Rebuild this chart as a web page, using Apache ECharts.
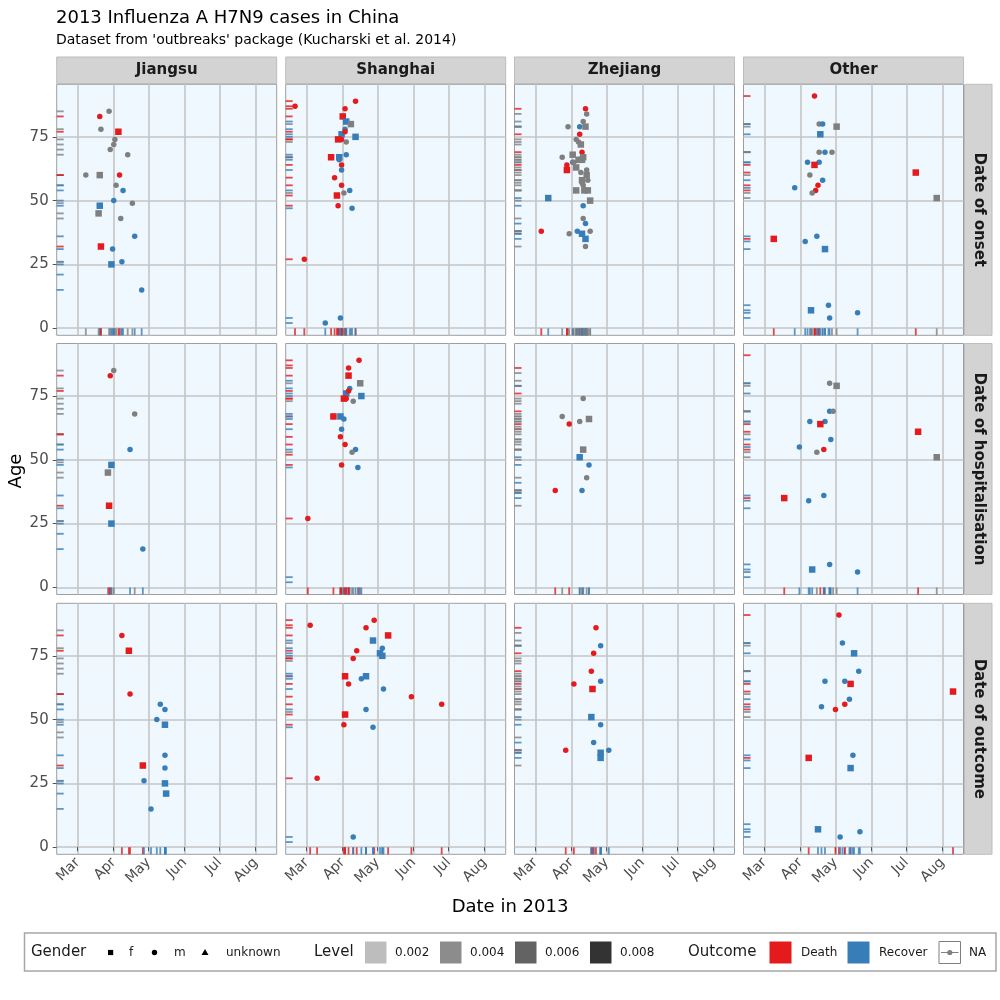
<!DOCTYPE html>
<html>
<head>
<meta charset="utf-8">
<script src="https://cdn.jsdelivr.net/npm/echarts@6/dist/echarts.min.js"></script>
<style>html,body{margin:0;padding:0;background:#fff}#main{width:1000px;height:1000px}</style>
</head>
<body>
<div id="main"></div>
<script>
const provinces = ['Jiangsu', 'Shanghai', 'Zhejiang', 'Other'];
const dateTypes = ['Date of onset', 'Date of hospitalisation', 'Date of outcome'];
const monthTicks = ['03-01', '04-01', '05-01', '06-01', '07-01', '08-01'];
const monthLabels = ['Mar', 'Apr', 'May', 'Jun', 'Jul', 'Aug'];
const ageTicks = [0, 25, 50, 75];
const levelLabels = ['0.002', '0.004', '0.006', '0.008'];

// one row per case: [age, gender, outcome, onset, hospitalisation, outcome date]
const jiangsu = [
  [85, 'm', null, '03-28', '04-01', null],
  [83, 'm', 'Death', '03-20', '03-29', '04-08'],
  [78, 'm', null, '03-21', null, null],
  [77, 'f', 'Death', '04-05', null, '04-14'],
  [74, 'm', null, '04-02', null, null],
  [72, 'm', null, '04-01', null, null],
  [70, 'm', null, '03-29', null, null],
  [68, 'm', null, '04-13', '04-19', null],
  [60, 'm', null, '03-08', null, null],
  [60, 'f', null, '03-20', null, null],
  [60, 'm', 'Death', '04-06', null, '04-15'],
  [56, 'm', null, '04-03', null, null],
  [54, 'm', 'Recover', '04-09', '04-15', '05-15'],
  [48, 'f', 'Recover', '03-20', '03-30', '05-15'],
  [50, 'm', 'Recover', '04-01', null, '05-08'],
  [49, 'm', null, '04-17', null, null],
  [45, 'f', null, '03-19', '03-27', null],
  [43, 'm', null, '04-07', null, null],
  [36, 'm', 'Recover', '04-19', null, '05-15'],
  [32, 'f', 'Death', '03-21', '03-28', '04-26'],
  [31, 'm', 'Recover', '03-31', null, '05-15'],
  [26, 'm', 'Recover', '04-08', null, '04-27'],
  [25, 'f', 'Recover', '03-30', '03-30', '05-15'],
  [15, 'm', 'Recover', '04-25', '04-26', '05-03'],
  [56, 'm', 'Recover', null, null, '05-11'],
  [21, 'f', 'Recover', null, null, '05-16'],
  [26, 'm', null, null, null, null]
];
const shanghai = [
  [89, 'm', 'Death', '04-12', '04-15', '04-28'],
  [87, 'm', 'Death', '02-19', null, '03-04'],
  [86, 'm', 'Death', '04-03', '04-06', '04-21'],
  [83, 'f', 'Death', '04-01', '04-06', '05-10'],
  [81, 'f', 'Recover', '04-04', null, '04-27'],
  [80, 'f', null, '04-08', '04-16', null],
  [78, 'm', 'Recover', '04-03', '04-07', '05-05'],
  [76, 'f', 'Recover', '03-31', '04-04', '05-03'],
  [77, 'm', 'Death', '04-03', '04-06', '04-13'],
  [74, 'f', 'Death', '03-28', '04-02', null],
  [74, 'm', 'Death', '03-31', '04-04', '04-10'],
  [73, 'm', null, '04-04', '04-10', null],
  [75, 'f', 'Recover', '04-12', '04-17', '05-05'],
  [67, 'f', 'Death', '03-22', '03-24', '04-03'],
  [67, 'f', 'Recover', '03-29', '03-30', '04-21'],
  [66, 'm', 'Recover', '03-29', '04-02', '04-17'],
  [68, 'm', 'Recover', '04-04', null, null],
  [64, 'm', 'Death', '03-31', null, '04-06'],
  [62, 'm', 'Recover', '03-31', '03-31', '05-06'],
  [59, 'm', 'Death', '03-25', '03-30', '05-30'],
  [56, 'm', 'Death', '03-31', '04-03', '06-25'],
  [54, 'm', 'Recover', '04-07', '04-12', '04-21'],
  [53, 'm', null, '04-02', '04-09', null],
  [52, 'f', 'Death', '03-27', null, '04-03'],
  [48, 'm', 'Death', '03-28', '03-31', '04-02'],
  [47, 'm', 'Recover', '04-09', '04-14', '04-27'],
  [27, 'm', 'Death', '02-27', '03-02', '03-10'],
  [4, 'm', 'Recover', '03-30', null, '04-10'],
  [2, 'm', 'Recover', '03-17', null, null]
];
const zhejiang = [
  [86, 'm', 'Death', '04-13', null, '04-22'],
  [84, 'm', null, '04-14', null, null],
  [79, 'm', null, '03-29', null, null],
  [81, 'm', null, '04-11', null, null],
  [79, 'm', 'Recover', '04-08', null, '04-26'],
  [79, 'f', null, '04-13', null, null],
  [76, 'm', 'Death', '04-08', null, '04-20'],
  [74, 'm', null, '04-05', '04-11', null],
  [73, 'm', null, '04-07', null, null],
  [72, 'f', null, '04-09', null, null],
  [69, 'm', 'Death', '04-10', null, '04-18'],
  [68, 'f', null, '04-02', null, null],
  [67, 'f', null, '04-11', null, null],
  [67, 'm', null, '03-24', '03-24', null],
  [65, 'm', 'Recover', '04-02', null, '04-26'],
  [66, 'f', null, '04-07', null, null],
  [66, 'f', null, '04-10', '04-16', null],
  [65, 'm', null, '04-03', '04-08', null],
  [64, 'm', 'Death', '03-28', '03-30', '04-03'],
  [62, 'f', 'Death', '03-28', null, '04-19'],
  [63, 'f', null, '04-05', null, null],
  [61, 'm', null, '04-09', null, null],
  [62, 'm', null, '04-14', null, null],
  [60, 'f', null, '04-14', null, null],
  [58, 'm', null, '04-15', null, null],
  [58, 'f', null, '04-10', null, null],
  [57, 'm', null, '04-10', null, null],
  [56, 'm', null, '04-11', null, null],
  [54, 'f', null, '04-05', '04-11', null],
  [54, 'f', null, '04-12', null, null],
  [54, 'f', null, '04-15', null, null],
  [51, 'f', 'Recover', '03-12', '04-08', '04-18'],
  [50, 'f', null, '04-17', null, null],
  [48, 'm', 'Recover', '04-11', '04-16', '04-26'],
  [43, 'm', null, '04-11', '04-14', null],
  [41, 'm', 'Recover', '04-13', null, '04-20'],
  [38, 'm', 'Death', '03-06', '03-18', '03-27'],
  [37, 'm', null, '03-30', null, null],
  [38, 'm', 'Recover', '04-06', '04-10', '05-03'],
  [38, 'm', null, '04-17', null, null],
  [37, 'f', 'Recover', '04-10', null, '04-26'],
  [35, 'f', 'Recover', '04-13', null, '04-26'],
  [32, 'm', null, '04-13', null, null]
];
const other = [
  [91, 'm', 'Death', '04-13', null, '05-04'],
  [80, 'm', null, '04-17', '04-26', null],
  [80, 'm', 'Recover', '04-20', null, '05-07'],
  [79, 'f', null, '05-02', '05-02', null],
  [76, 'f', 'Recover', '04-18', null, '05-17'],
  [69, 'm', null, '04-17', null, null],
  [69, 'm', 'Recover', '04-22', '04-26', '05-21'],
  [69, 'm', null, '04-28', '04-29', null],
  [65, 'm', 'Recover', '04-07', '04-09', '04-22'],
  [65, 'm', 'Recover', '04-17', '04-22', '05-09'],
  [64, 'f', 'Death', '04-13', '04-18', '05-14'],
  [61, 'f', 'Death', '07-09', '07-11', '08-10'],
  [60, 'm', null, '04-09', null, null],
  [58, 'm', 'Recover', '04-20', '04-27', '05-13'],
  [56, 'm', 'Death', '04-16', null, '05-09'],
  [55, 'm', 'Recover', '03-27', '03-31', '04-19'],
  [54, 'm', 'Death', '04-14', '04-21', '05-01'],
  [53, 'm', null, '04-11', '04-15', null],
  [51, 'f', null, '07-27', '07-27', null],
  [35, 'f', 'Death', '03-09', '03-18', '04-08'],
  [34, 'm', 'Recover', '04-05', '04-08', null],
  [36, 'm', 'Recover', '04-15', '04-21', '05-16'],
  [31, 'f', 'Recover', '04-22', null, '05-14'],
  [9, 'm', 'Recover', '04-25', '04-26', null],
  [7, 'f', 'Recover', '04-10', '04-11', '04-16'],
  [6, 'm', 'Recover', '05-20', '05-20', '05-22'],
  [4, 'm', 'Recover', '04-26', null, '05-05']
];

const provinceCases = [jiangsu, shanghai, zhejiang, other];
const outcomeColors = { Death: '#E41A1C', Recover: '#377EB8' };
const naColor = '#7F7F7F';
const genderSymbols = { f: 'rect', m: 'circle', unknown: 'triangle' };
const levelColors = ['#BDBDBD', '#8C8C8C', '#636363', '#333333'];
const font = 'DejaVu Sans';

// panel layout
const colLeft = [56.7, 285.7, 514.5, 743.5];
const rowTop = [84.3, 343.5, 603.3];
const panelW = 220, panelH = 251;
const xMin = 41, xMax = 230, yMin = -2.8, yMax = 95.6;

function dayOf(md) {
  const p = md.split('-').map(Number);
  return (Date.UTC(2013, p[0] - 1, p[1]) - Date.UTC(2013, 0, 1)) / 864e5;
}
function colorOf(o) { return o ? outcomeColors[o] : naColor; }
const monthDays = monthTicks.map(dayOf);

const chartDom = document.getElementById('main');
const myChart = echarts.init(chartDom);

const grids = [], xAxes = [], yAxes = [], series = [], graphics = [];

dateTypes.forEach((dt, r) => {
  provinces.forEach((pv, c) => {
    const i = r * 4 + c;
    grids.push({
      left: colLeft[c], top: rowTop[r], width: panelW, height: panelH,
      show: true, backgroundColor: '#F0F8FF', borderColor: '#9E9E9E', borderWidth: 1
    });
    xAxes.push({
      type: 'value', gridIndex: i, min: xMin, max: xMax,
      axisLine: { show: false },
      axisTick: { show: r === 2, length: 4, customValues: monthDays, lineStyle: { color: '#555' } },
      axisLabel: {
        show: r === 2, customValues: monthDays, rotate: 45, margin: 6,
        color: '#4D4D4D', fontSize: 14, fontFamily: font,
        formatter: v => monthLabels[monthDays.indexOf(Math.round(v))]
      },
      splitLine: { show: true, lineStyle: { color: '#C4C4C4', width: 1.6 } }
    });
    yAxes.push({
      type: 'value', gridIndex: i, min: yMin, max: yMax,
      axisLine: { show: false },
      axisTick: { show: c === 0, length: 4, customValues: ageTicks, lineStyle: { color: '#555' } },
      axisLabel: {
        show: c === 0, customValues: ageTicks, margin: 8,
        color: '#4D4D4D', fontSize: 15, fontFamily: font
      },
      splitLine: { show: true, lineStyle: { color: '#C4C4C4', width: 1.6 } }
    });

    const cases = provinceCases[c];
    const dated = cases.filter(k => k[3 + r]);
    // rug on the date axis
    series.push({
      type: 'scatter', xAxisIndex: i, yAxisIndex: i, clip: false, silent: true, z: 2,
      symbol: 'rect', symbolSize: [1.8, 7], symbolOffset: [0, -3.5],
      data: dated.map(k => ({ value: [dayOf(k[3 + r]), yMin], itemStyle: { color: colorOf(k[2]), opacity: 0.8 } }))
    });
    // rug on the age axis
    series.push({
      type: 'scatter', xAxisIndex: i, yAxisIndex: i, clip: false, silent: true, z: 2,
      symbol: 'rect', symbolSize: [7, 1.8], symbolOffset: [3.5, 0],
      data: cases.map(k => ({ value: [xMin, k[0]], itemStyle: { color: colorOf(k[2]), opacity: 0.8 } }))
    });
    // cases
    series.push({
      type: 'scatter', xAxisIndex: i, yAxisIndex: i, clip: false, silent: true, z: 3,
      data: dated.map(k => ({
        value: [dayOf(k[3 + r]), k[0]],
        symbol: genderSymbols[k[1]],
        symbolSize: k[1] === 'f' ? 6.5 : 5.5,
        itemStyle: { color: colorOf(k[2]), opacity: 1 }
      }))
    });
  });
});

// facet strips
provinces.forEach((pv, c) => {
  graphics.push({ type: 'rect', shape: { x: colLeft[c], y: 57, width: panelW, height: 26.5 }, style: { fill: '#D3D3D3', stroke: '#BDBDBD', lineWidth: 1 } });
  graphics.push({ type: 'text', x: colLeft[c] + panelW / 2, y: 70.5, style: { text: pv, font: 'bold 15px "DejaVu Sans"', fill: '#1A1A1A', textAlign: 'center', textVerticalAlign: 'middle' } });
});
dateTypes.forEach((dt, r) => {
  graphics.push({ type: 'rect', shape: { x: 964.5, y: rowTop[r], width: 27.5, height: panelH }, style: { fill: '#D3D3D3', stroke: '#BDBDBD', lineWidth: 1 } });
  graphics.push({ type: 'text', x: 978.5, y: rowTop[r] + panelH / 2, rotation: -Math.PI / 2, style: { text: dt, font: 'bold 15px "DejaVu Sans"', fill: '#1A1A1A', textAlign: 'center', textVerticalAlign: 'middle' } });
});

// axis titles
graphics.push({ type: 'text', x: 16, y: 471, rotation: Math.PI / 2, style: { text: 'Age', font: '18px "DejaVu Sans"', fill: '#000', textAlign: 'center', textVerticalAlign: 'middle' } });
graphics.push({ type: 'text', x: 510, y: 907, style: { text: 'Date in 2013', font: '18px "DejaVu Sans"', fill: '#000', textAlign: 'center', textVerticalAlign: 'middle' } });

// legend box
const ly = 952.5;
const lt = (x, t, size) => ({ type: 'text', x: x, y: ly, style: { text: t, font: size + 'px "DejaVu Sans"', fill: '#1A1A1A', textVerticalAlign: 'middle' } });
graphics.push({ type: 'rect', shape: { x: 24.5, y: 933, width: 971.5, height: 38 }, style: { fill: '#fff', stroke: '#A6A6A6', lineWidth: 1.5 } });
graphics.push(lt(31, 'Gender', 15));
graphics.push({ type: 'rect', shape: { x: 108, y: ly - 2.6, width: 5.2, height: 5.2 }, style: { fill: '#000' } });
graphics.push(lt(129, 'f', 12));
graphics.push({ type: 'circle', shape: { cx: 154.5, cy: ly, r: 2.7 }, style: { fill: '#000' } });
graphics.push(lt(174, 'm', 12));
graphics.push({ type: 'polygon', shape: { points: [[205, ly - 3.5], [201.5, ly + 2.5], [208.5, ly + 2.5]] }, style: { fill: '#000' } });
graphics.push(lt(226, 'unknown', 12));
graphics.push(lt(314, 'Level', 15));
levelLabels.forEach((lv, j) => {
  const x0 = 365 + j * 75;
  graphics.push({ type: 'rect', shape: { x: x0, y: 941.5, width: 21.5, height: 22 }, style: { fill: levelColors[j] } });
  graphics.push(lt(x0 + 30, lv, 12));
});
graphics.push(lt(688, 'Outcome', 15));
graphics.push({ type: 'rect', shape: { x: 769.5, y: 941.5, width: 22, height: 22 }, style: { fill: outcomeColors.Death } });
graphics.push(lt(801, 'Death', 12));
graphics.push({ type: 'rect', shape: { x: 847.5, y: 941.5, width: 22, height: 22 }, style: { fill: outcomeColors.Recover } });
graphics.push(lt(879, 'Recover', 12));
graphics.push({ type: 'rect', shape: { x: 939, y: 941.5, width: 21.5, height: 22 }, style: { fill: '#fff', stroke: naColor, lineWidth: 1 } });
graphics.push({ type: 'line', shape: { x1: 941, y1: ly, x2: 958.5, y2: ly }, style: { stroke: naColor, lineWidth: 1 } });
graphics.push({ type: 'circle', shape: { cx: 949.8, cy: ly, r: 2.6 }, style: { fill: naColor } });
graphics.push(lt(969, 'NA', 12));

let option = {
  animation: false,
  backgroundColor: '#fff',
  title: {
    text: '2013 Influenza A H7N9 cases in China',
    subtext: "Dataset from 'outbreaks' package (Kucharski et al. 2014)",
    left: 51, top: 4, itemGap: 6,
    textStyle: { fontSize: 18, fontWeight: 'normal', color: '#000', fontFamily: font },
    subtextStyle: { fontSize: 14, color: '#000', fontFamily: font }
  },
  grid: grids,
  xAxis: xAxes,
  yAxis: yAxes,
  series: series,
  graphic: graphics
};

option && myChart.setOption(option);
</script>
</body>
</html>
